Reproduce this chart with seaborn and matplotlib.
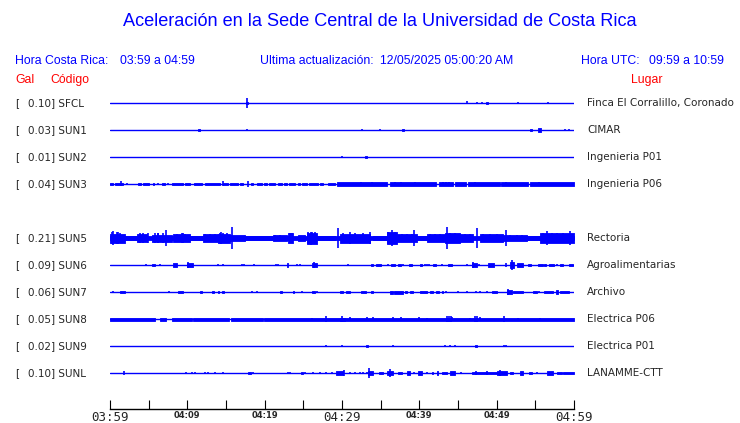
import matplotlib
matplotlib.use("Agg")
import matplotlib.pyplot as plt
import seaborn as sns
import numpy as np
import pandas as pd


# station list, top to bottom
STATIONS = ["SFCL", "SUN1", "SUN2", "SUN3", "SUN5", "SUN6", "SUN7", "SUN8", "SUN9", "SUNL"]
GAL = [0.10, 0.03, 0.01, 0.04, 0.21, 0.09, 0.06, 0.05, 0.02, 0.10]
PLACES = ["Finca El Corralillo, Coronado", "CIMAR", "Ingenieria P01", "Ingenieria P06",
          "Rectoria", "Agroalimentarias", "Archivo", "Electrica P06", "Electrica P01",
          "LANAMME-CTT"]

# time axis (minutes after 03:59)
TICK_MIN = list(range(0, 61, 5))
TICK_LABELS = ["03:59", "", "04:09", "", "04:19", "", "04:29", "", "04:39", "", "04:49", "", "04:59"]

# bursts: (start min, end min, relative amplitude); spikes: (min, relative amplitude)
BURSTS = {
    "SFCL": [(17.6, 17.85, 1.0), (48.6, 48.85, 1.3)],
    "SUN1": [(11.4, 11.65, 1.2), (37.8, 38.05, 1.4), (54.25, 54.6, 1.4), (55.35, 55.7, 1.6)],
    "SUN2": [(33.0, 33.25, 1.3)],
    "SUN3": [(0.0, 0.43, 1.4), (0.65, 1.72, 1.4), (3.66, 4.01, 1.4), (4.31, 5.04, 1.4),
             (5.52, 5.73, 1.4), (6.77, 7.11, 1.4), (8.06, 9.48, 1.4), (9.7, 10.35, 1.4),
             (10.9, 11.85, 1.4), (12.28, 14.22, 1.4), (14.65, 15.3, 1.4), (15.52, 16.6, 1.4),
             (16.8, 17.24, 1.4), (18.2, 18.5, 1.4), (18.97, 19.6, 1.4), (19.96, 20.26, 1.4),
             (20.56, 21.34, 1.4), (21.68, 22.2, 1.4), (22.46, 22.85, 1.4), (23.15, 23.9, 1.4),
             (24.27, 24.57, 1.4), (24.78, 25.43, 1.4), (25.73, 26.94, 1.4), (27.16, 27.59, 1.4),
             (28.15, 29.1, 1.4), (29.35, 35.8, 1.6), (36.2, 42.2, 1.6), (42.6, 44.4, 1.6),
             (44.6, 46.0, 1.6), (46.3, 50.4, 1.6), (50.6, 54.1, 1.6), (54.3, 60.0, 1.6)],
    "SUN5": [(0.0, 60.0, 1.7), (0.0, 1.94, 4.5), (1.94, 3.45, 1.8), (3.45, 4.74, 4.0),
             (5.39, 7.97, 3.5), (8.19, 10.35, 3.8), (10.35, 12.07, 2.0), (12.07, 14.0, 4.0),
             (14.0, 15.52, 4.5), (15.52, 17.46, 3.2), (17.46, 20.9, 2.4), (21.12, 22.84, 3.3),
             (22.97, 23.71, 5.0), (24.35, 25.21, 3.3), (25.43, 26.72, 5.5), (26.94, 29.09, 1.9),
             (29.74, 33.62, 4.5), (34.05, 35.77, 2.0), (35.77, 37.07, 6.0), (37.07, 39.65, 4.0),
             (39.65, 40.95, 2.2), (40.95, 43.32, 4.0), (43.32, 45.26, 5.3), (45.26, 46.98, 4.0),
             (47.84, 50.86, 4.0), (50.86, 53.88, 3.3), (53.88, 55.6, 2.2), (55.6, 60.0, 5.3)],
    "SUN6": [(5.39, 5.82, 1.3), (8.19, 8.62, 1.7), (9.91, 10.78, 1.7), (22.84, 23.06, 2.3),
             (26.16, 26.72, 2.0), (33.7, 34.05, 1.3), (34.4, 35.0, 1.3), (36.4, 36.85, 1.3),
             (37.2, 37.6, 1.3), (38.6, 39.0, 1.3), (40.1, 40.4, 1.3), (41.8, 42.15, 1.3),
             (43.75, 44.2, 1.3), (46.77, 47.41, 2.3), (48.9, 49.65, 2.3), (51.72, 52.24, 3.3),
             (52.6, 53.45, 1.7), (54.1, 54.4, 1.3), (55.4, 55.95, 1.3), (56.16, 56.38, 1.3),
             (56.8, 57.4, 1.3), (58.2, 58.53, 1.3), (59.4, 59.83, 1.3)],
    "SUN7": [(1.29, 1.94, 1.3), (8.84, 9.48, 1.3), (11.64, 11.85, 1.3), (13.23, 13.4, 1.3),
             (13.92, 14.09, 1.3), (14.52, 14.7, 1.3), (21.98, 22.2, 1.3), (23.71, 23.84, 1.3),
             (26.08, 26.51, 1.3), (29.74, 30.08, 1.0), (30.5, 31.03, 1.3), (32.41, 33.1, 1.3),
             (33.7, 34.05, 1.3), (36.2, 36.64, 1.5), (36.72, 37.93, 1.5), (38.15, 38.36, 1.3),
             (38.79, 39.22, 1.3), (40.08, 40.95, 1.3), (41.38, 41.81, 1.3), (42.15, 42.5, 1.3),
             (42.9, 43.1, 1.0), (49.35, 50.0, 1.3), (51.29, 51.94, 2.0), (52.15, 53.36, 1.3),
             (54.65, 55.17, 1.3), (56.12, 57.33, 1.3), (57.67, 57.97, 2.0), (58.2, 59.4, 1.3)],
    "SUN8": [(0.0, 5.82, 1.5), (6.46, 7.2, 1.5), (7.97, 10.56, 1.5), (10.78, 15.39, 1.5),
             (15.65, 19.83, 1.5), (19.96, 30.39, 1.5), (29.74, 60.0, 1.5)],
    "SUN9": [(33.1, 33.3, 1.3), (47.25, 47.45, 1.3)],
    "SUNL": [(17.8, 18.23, 1.0), (24.7, 24.9, 1.3), (29.2, 30.17, 1.7), (33.4, 34.05, 2.0),
             (34.83, 35.26, 1.3), (35.77, 36.64, 2.0), (37.28, 37.7, 1.3), (38.36, 38.79, 1.7),
             (39.87, 40.3, 1.7), (41.6, 41.81, 1.3), (42.24, 42.46, 2.0), (42.9, 43.53, 1.3),
             (43.96, 44.61, 2.0), (46.77, 50.0, 1.3), (50.0, 51.29, 1.7), (51.72, 52.15, 1.3),
             (53.02, 53.45, 1.7), (54.22, 54.53, 1.3), (56.46, 57.33, 1.7), (57.76, 58.4, 1.3),
             (58.62, 60.0, 1.3)],
}

SPIKES = {
    "SFCL": [(17.7, 5.3), (46.1, 1.5), (47.5, 1.0), (48.1, 0.8), (52.8, 1.3), (56.7, 0.7)],
    "SUN1": [(17.7, 1.0), (32.6, 0.7), (34.9, 1.3), (58.9, 1.0), (59.3, 1.0)],
    "SUN2": [(30.0, 1.3)],
    "SUN3": [(1.38, 2.5), (2.24, 1.0), (6.16, 1.2), (7.54, 1.2), (14.65, 2.5), (17.89, 2.8),
             (32.4, 2.2), (33.9, 2.4), (36.8, 2.0), (37.6, 2.4), (39.5, 2.0), (43.1, 1.8),
             (43.5, 1.8), (43.9, 1.8), (47.2, 2.0), (51.2, 2.0), (55.5, 2.0)],
    "SUN5": [(0.22, 6.0), (0.4, 6.7), (0.86, 6.0), (1.0, 6.0), (1.29, 5.0), (3.88, 4.7),
             (4.31, 4.7), (4.87, 4.7), (5.82, 5.0), (6.2, 5.0), (6.25, 4.7), (6.9, 5.3),
             (7.28, 8.0), (8.62, 4.3), (9.27, 4.7), (9.5, 5.0), (9.7, 4.3), (12.28, 4.0),
             (12.93, 4.3), (13.58, 4.0), (14.22, 5.0), (14.3, 6.0), (14.65, 5.0), (15.09, 5.0),
             (15.82, 10.7), (21.34, 3.3), (21.98, 3.3), (23.28, 5.3), (23.49, 5.3), (25.65, 6.0),
             (26.0, 6.5), (26.08, 6.0), (26.51, 6.0), (29.52, 10.0), (30.17, 5.0), (31.03, 6.0),
             (31.68, 5.0), (32.76, 5.0), (33.62, 6.0), (35.99, 6.0), (36.42, 8.0), (36.85, 6.0),
             (37.71, 4.3), (38.36, 4.3), (39.01, 4.3), (39.31, 8.3), (41.38, 4.0), (42.02, 4.0),
             (42.67, 4.0), (43.62, 11.2), (43.96, 5.3), (44.61, 5.3), (45.9, 4.0), (46.55, 4.0),
             (47.5, 10.3), (48.27, 4.0), (49.14, 4.0), (50.0, 4.0), (51.16, 8.3), (51.72, 3.3),
             (52.58, 3.3), (53.23, 3.3), (56.03, 5.3), (56.46, 6.7), (57.11, 5.3), (57.76, 5.3),
             (58.62, 5.3), (59.48, 6.7)],
    "SUN6": [(4.65, 0.7), (6.46, 1.0), (10.13, 3.3), (14.0, 1.0), (14.65, 1.0), (17.11, 1.0),
             (17.37, 1.0), (18.66, 0.7), (21.46, 1.0), (21.77, 0.7), (24.2, 1.3), (24.57, 1.3),
             (26.42, 3.3), (30.82, 0.7), (35.9, 1.0), (37.93, 1.0), (40.73, 1.0), (41.03, 1.0),
             (41.3, 1.0), (42.97, 1.0), (46.12, 1.0), (47.0, 3.0), (47.76, 1.0), (51.16, 1.7),
             (51.94, 5.3), (57.76, 1.3)],
    "SUN7": [(0.43, 1.3), (7.67, 1.0), (18.4, 0.7), (18.96, 1.0), (24.78, 0.7), (26.81, 1.0),
             (43.45, 1.0), (45.04, 1.3), (46.12, 0.7), (47.33, 0.7), (47.84, 0.7), (48.7, 0.7),
             (51.5, 3.3), (55.47, 1.0)],
    "SUN8": [(26.08, 1.5), (27.93, 2.7), (29.96, 2.7), (31.03, 2.3), (33.27, 2.0), (34.05, 1.7),
             (36.64, 2.3), (37.6, 1.7), (39.96, 1.7), (40.95, 1.0), (43.62, 2.7), (43.85, 2.7),
             (44.05, 2.7), (44.18, 2.0), (46.55, 1.3), (47.2, 2.7), (47.4, 2.7), (47.84, 1.7),
             (50.99, 2.7), (52.8, 1.3), (55.6, 1.0)],
    "SUN9": [(27.93, 1.3), (29.96, 1.3), (36.64, 1.0), (43.32, 0.7), (43.96, 0.7), (44.6, 0.7),
             (50.95, 1.0), (51.2, 1.0)],
    "SUNL": [(1.85, 1.7), (9.83, 1.3), (10.65, 1.0), (11.04, 1.3), (12.28, 0.7), (12.72, 1.3),
             (13.58, 0.7), (14.65, 1.3), (18.53, 1.3), (23.06, 1.3), (23.28, 1.0), (25.2, 1.3),
             (26.3, 1.0), (27.16, 1.0), (27.93, 1.3), (28.66, 1.3), (30.3, 3.3), (31.03, 0.7),
             (31.68, 0.7), (32.33, 0.7), (32.67, 1.0), (33.19, 1.3), (33.53, 5.3), (36.2, 4.3),
             (39.31, 1.0), (41.03, 1.0), (45.34, 1.0), (47.33, 2.0), (48.7, 2.0), (50.43, 2.7),
             (55.17, 1.3)],
}

BLUE = "#0000ff"
W, H = 740, 423
ROW_PX = 27.0      # pixel spacing of the traces
AMP = 1.0 / ROW_PX  # relative amplitude -> row units
GAP_AFTER = 4       # empty slot after the 4th station

sns.set_style("white")
fig = plt.figure(figsize=(W / 100, H / 100), dpi=100)

# axes spans x 110..574 px, y 90..409 px
ax = fig.add_axes([110 / W, 1 - 409 / H, 464 / W, 319 / H])
ax.set_xlim(0, 60)
ax.set_ylim(11.33, -0.48)

rows = [i if i < GAP_AFTER else i + 1 for i in range(len(STATIONS))]
base = pd.DataFrame({
    "t": [0, 60] * len(STATIONS),
    "row": np.repeat(rows, 2),
    "station": np.repeat(STATIONS, 2),
})
sns.lineplot(data=base, x="t", y="row", units="station", estimator=None,
             color=BLUE, lw=1.0, ax=ax, legend=False)

for st, r in zip(STATIONS, rows):
    for t0, t1, a in BURSTS[st]:
        ax.fill_between([t0, t1], r - a * AMP, r + a * AMP, color=BLUE, lw=0.6)
    sp = SPIKES[st]
    if sp:
        ts = [s[0] for s in sp]
        amps = np.array([s[1] for s in sp]) * AMP
        ax.vlines(ts, r - amps, r + amps, color=BLUE, lw=1.2)

# time axis
for s in ["top", "left", "right"]:
    ax.spines[s].set_visible(False)
ax.spines["bottom"].set_color("black")
ax.spines["bottom"].set_linewidth(1.0)
ax.set_yticks([])
ax.set_xticks(TICK_MIN)
ax.set_xticklabels(TICK_LABELS)
ax.tick_params(axis="x", bottom=True, direction="in", length=6.5, width=0.8,
               color="black", pad=1.5)
ax.set_xlabel("")
ax.set_ylabel("")
for lab in ax.get_xticklabels():
    if lab.get_text() in ("03:59", "04:29", "04:59"):
        lab.set_fontsize(9)
        lab.set_family("DejaVu Sans Mono")
    else:
        lab.set_fontsize(6)
        lab.set_family("DejaVu Sans")
        lab.set_weight("semibold")


def px(x, y):
    return x / W, 1 - y / H


# station labels
for st, g, place, r in zip(STATIONS, GAL, PLACES, rows):
    yp = 103 + r * ROW_PX
    fig.text(*px(15, yp), "[", fontsize=7.5, va="center", family="DejaVu Sans")
    fig.text(*px(28, yp), f"{g:.2f}] {st}", fontsize=7.5, va="center", family="DejaVu Sans")
    fig.text(*px(587, yp), place, fontsize=7.5, va="center", family="DejaVu Sans")

# header
hf = "Liberation Sans"
hs = 8.8
fig.text(*px(380, 22), "Aceleración en la Sede Central de la Universidad de Costa Rica",
         fontsize=13.1, color=BLUE, ha="center", va="center", family=hf)
fig.text(*px(15, 61), "Hora Costa Rica:", fontsize=hs, color=BLUE, va="center", family=hf)
fig.text(*px(120, 61), "03:59 a 04:59", fontsize=hs, color=BLUE, va="center", family=hf)
fig.text(*px(260, 61), "Ultima actualización:", fontsize=hs, color=BLUE, va="center", family=hf)
fig.text(*px(380, 61), "12/05/2025 05:00:20 AM", fontsize=hs, color=BLUE, va="center", family=hf)
fig.text(*px(581, 61), "Hora UTC:", fontsize=hs, color=BLUE, va="center", family=hf)
fig.text(*px(724, 61), "09:59 a 10:59", fontsize=hs, color=BLUE, ha="right", va="center",
         family=hf)
fig.text(*px(15, 80), "Gal", fontsize=hs, color="red", va="center", family=hf)
fig.text(*px(50, 80), "Código", fontsize=hs, color="red", va="center", family=hf)
fig.text(*px(631, 80), "Lugar", fontsize=hs, color="red", va="center", family=hf)

fig.savefig("out.png", dpi=100)
